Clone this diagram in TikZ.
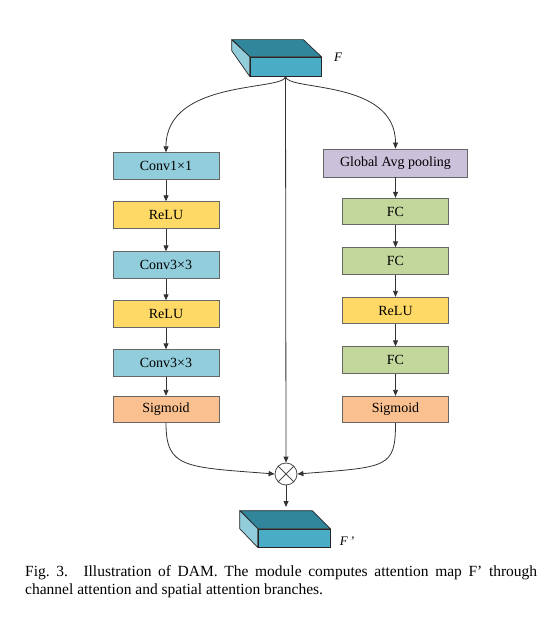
\documentclass[tikz,border=0pt]{standalone}
\usepackage{fontspec}
\setmainfont{Liberation Serif}
\usepackage{xcolor}
\usetikzlibrary{arrows.meta, calc}

\definecolor{convblue}{HTML}{92CDDC}
\definecolor{reluyellow}{HTML}{FFD966}
\definecolor{sigorange}{HTML}{FAC090}
\definecolor{poolpurple}{HTML}{CCC1DA}
\definecolor{fcgreen}{HTML}{C3D69B}
\definecolor{cubefront}{HTML}{4BACC6}
\definecolor{cubetop}{HTML}{31869B}
\definecolor{cubeside}{HTML}{92CDDC}

\begin{document}
\begin{tikzpicture}[x=1pt, y=1pt,
  blk/.style={draw=black!60, line width=0.8pt, minimum width=106pt, minimum height=26.5pt,
              inner sep=0pt, font=\fontsize{14}{14}\selectfont},
  conv/.style={blk, fill=convblue},
  relu/.style={blk, fill=reluyellow},
  sigm/.style={blk, fill=sigorange},
  fc/.style={blk, fill=fcgreen},
  pool/.style={blk, fill=poolpurple, minimum width=144pt, minimum height=28pt},
  face/.style={draw=black!85, line width=0.7pt, inner sep=0pt},
  link/.style={->, draw=black!80, line width=0.8pt},
  >={Triangle[length=6pt,width=5pt]}]
\useasboundingbox (0,0) rectangle (550,-617);

% input feature map F
\node[face, fill=cubefront, minimum width=71pt, minimum height=19pt] (Fin) at (285.5,-66.5) {};
\draw[face, fill=cubetop] (Fin.north west) -- (Fin.north east) -- ++(-18,17) -- ++(-71,0) -- cycle;
\draw[face, fill=cubeside] (Fin.north west) -- ++(-18,17) -- ++(0,-11) -- (Fin.south west) -- cycle;
\node[font=\itshape\fontsize{13}{13}\selectfont] (Flab) at (338,-57) {F};

% channel branch
\node[conv] (cA) at (166,-166)   {Conv1×1};
\node[relu] (rA) at (166,-215)   {ReLU};
\node[conv] (cB) at (166,-265)   {Conv3×3};
\node[relu] (rB) at (166,-314)   {ReLU};
\node[conv] (cC) at (166,-363)   {Conv3×3};
\node[sigm] (sA) at (166,-409.5) {Sigmoid};

% pooling branch
\node[pool] (gap) at (395.5,-163)   {Global Avg pooling};
\node[fc]   (fA)  at (395.5,-211.5) {FC};
\node[fc]   (fB)  at (395.5,-261)   {FC};
\node[relu] (rC)  at (395.5,-310.5) {ReLU};
\node[fc]   (fC)  at (395.5,-360)   {FC};
\node[sigm] (sB)  at (395.5,-409.5) {Sigmoid};

% product
\node[draw=black!70, circle, minimum size=22pt, inner sep=0pt, line width=0.8pt] (mul) at (286,-474) {};
\draw[black!70, line width=0.8pt] (mul.north west) -- (mul.south east);
\draw[black!70, line width=0.8pt] (mul.north east) -- (mul.south west);

% output feature map F'
\node[face, fill=cubefront, minimum width=72pt, minimum height=18pt] (Fout) at (294,-538) {};
\draw[face, fill=cubetop] (Fout.north west) -- (Fout.north east) -- ++(-18,18) -- ++(-72,0) -- cycle;
\draw[face, fill=cubeside] (Fout.north west) -- ++(-18,18) -- ++(0,-18) -- (Fout.south west) -- cycle;
\node[font=\itshape\fontsize{13}{13}\selectfont] (Foutlab) at (347,-541) {F\,'};
\coordinate (Fouttop) at (286,-507);

% connectors
\draw[link] (Fin.south) -- (mul.north);
\draw[link] (Fin.south) .. controls +(0,-15) and +(0,74) .. (cA.north);
\draw[link] (Fin.south) .. controls +(0,-15) and +(0,70) .. (gap.north);
\foreach \a/\b in {cA/rA, rA/cB, cB/rB, rB/cC, cC/sA, gap/fA, fA/fB, fB/rC, rC/fC, fC/sB}
  \draw[link] (\a) -- (\b);
\draw[link] (sA.south) .. controls +(0,-45) and +(-90,7) .. (mul.west);
\draw[link] (sB.south) .. controls +(0,-45) and +(90,7) .. (mul.east);
\draw[link] (mul) -- (Fouttop);

% caption
\node[text width=512pt, align=justify, inner sep=0pt, anchor=north west,
      font=\fontsize{15.5}{18.5}\selectfont] (cap) at (25,-565)
  {Fig.~3.\hspace{1em}Illustration of DAM. The module computes attention map F' through\linebreak
   channel attention and spatial attention branches.};
\end{tikzpicture}
\end{document}
